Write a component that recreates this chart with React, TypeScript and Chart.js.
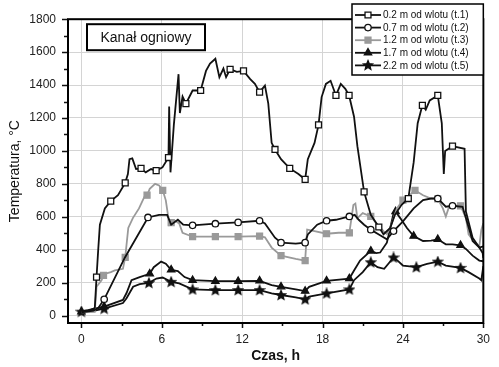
import React, { useEffect, useRef } from "react";
import { Chart, registerables } from "chart.js";

Chart.register(...registerables);

const FONT = "'Liberation Sans', Arial, sans-serif";

// Axis settings
const X_MIN = -1;
const X_MAX = 30;
const X_MAJOR = 6;
const X_MINOR = 3;
const Y_MIN = -45;
const Y_MAX = 1800;
const Y_MAJOR = 200;
const Y_MINOR = 100;

const TITLE_TEXT = "Kanał ogniowy";
const X_TITLE = "Czas, h";
const Y_TITLE = "Temperatura, °C";

const seriesLabels = [
  "0.2 m od wlotu (t.1)",
  "0.7 m od wlotu (t.2)",
  "1.2 m od wlotu (t.3)",
  "1.7 m od wlotu (t.4)",
  "2.2 m od wlotu (t.5)",
];

// t.1 – 0.2 m
const t1Time = [0, 0.5, 1.0, 1.13, 1.25, 1.38, 1.75, 2.19, 2.73, 3.27, 3.47, 3.59, 3.8, 4.08, 4.45, 4.8, 5.2, 5.58, 6.05, 6.5, 6.55, 6.65, 6.9, 7.25, 7.35, 7.55, 7.8, 8.3, 8.9, 9.3, 9.6, 10.0, 10.3, 10.6, 10.8, 11.1, 11.6, 12.1, 12.6, 12.95, 13.3, 13.7, 13.95, 14.2, 14.45, 14.9, 15.55, 16.2, 16.7, 16.9, 17.4, 17.7, 17.93, 18.25, 18.6, 19.0, 19.36, 19.7, 19.98, 20.35, 20.6, 21.1, 21.6, 22.2, 22.55, 23.05, 23.4, 23.9, 24.4, 24.8, 25.1, 25.45, 25.7, 26.0, 26.6, 26.9, 27.05, 27.15, 27.7, 28.6, 28.7, 29.2, 29.7, 29.95, 30];
const t1Temp = [24, 28, 46, 234, 393, 552, 651, 695, 731, 806, 860, 950, 955, 890, 894, 870, 890, 880, 900, 960, 1270, 870, 1158, 1466, 1230, 1330, 1287, 1367, 1367, 1486, 1530, 1560, 1448, 1500, 1448, 1496, 1480, 1486, 1436, 1407, 1357, 1397, 1287, 1049, 1009, 950, 894, 860, 827, 950, 1049, 1158, 1327, 1407, 1426, 1337, 1407, 1377, 1337, 1208, 1029, 751, 612, 538, 494, 532, 612, 673, 711, 930, 1168, 1277, 1250, 1307, 1337, 1168, 860, 1000, 1029, 1013, 632, 473, 413, 380, 350];
const t1Marks = [1.13, 2.19, 3.27, 4.45, 5.58, 6.5, 7.8, 8.9, 11.1, 12.1, 13.3, 14.45, 15.55, 16.7, 17.7, 19.0, 19.98, 21.1, 22.2, 24.4, 25.45, 26.6, 27.7];

// t.2 – 0.7 m
const t2Time = [0, 0.9, 1.25, 1.7, 3.25, 4.97, 5.8, 6.4, 6.7, 7.2, 7.6, 8.3, 10.0, 11.7, 13.3, 13.7, 14.45, 14.9, 16.0, 16.7, 16.9, 17.6, 18.3, 19.0, 20.0, 20.4, 20.7, 21.1, 21.6, 22.2, 22.8, 23.3, 24.0, 24.8, 25.5, 26.1, 26.6, 27.2, 27.7, 28.45, 28.7, 29.2, 29.7, 30];
const t2Temp = [20, 30, 45, 99, 353, 596, 612, 612, 552, 582, 552, 548, 558, 566, 576, 560, 473, 443, 437, 443, 493, 552, 576, 582, 602, 612, 582, 552, 522, 493, 463, 513, 572, 651, 701, 711, 711, 661, 667, 661, 592, 453, 413, 420];
const t2Marks = [1.7, 4.97, 8.3, 10.0, 11.7, 13.3, 14.9, 16.7, 18.3, 20.0, 21.6, 23.3, 26.6, 27.7];

// t.3 – 1.2 m
const t3Time = [0, 1.0, 1.13, 1.5, 1.65, 1.75, 2.2, 2.49, 3.1, 3.27, 3.5, 3.84, 4.3, 4.7, 4.9, 5.1, 5.5, 5.8, 6.07, 6.3, 6.57, 6.7, 6.9, 7.3, 7.55, 8.3, 10.0, 11.7, 13.3, 13.7, 14.2, 14.9, 16.0, 16.7, 16.85, 17.4, 18.3, 19.2, 20.0, 20.3, 20.45, 20.6, 21.0, 21.6, 22.1, 22.55, 22.8, 23.05, 23.55, 24.0, 24.5, 24.9, 25.5, 26.1, 26.6, 26.98, 27.2, 27.4, 27.7, 28.3, 28.7, 28.9, 29.3, 29.7, 29.85, 30];
const t3Temp = [20, 22, 175, 215, 244, 254, 264, 274, 284, 353, 532, 592, 651, 721, 731, 770, 800, 790, 761, 700, 552, 565, 580, 560, 503, 479, 479, 479, 483, 475, 413, 364, 344, 334, 522, 513, 497, 503, 503, 671, 680, 592, 622, 602, 552, 513, 495, 532, 651, 701, 731, 761, 731, 711, 709, 651, 602, 651, 667, 667, 592, 493, 450, 420, 520, 560];
const t3Marks = [1.65, 3.27, 4.9, 6.07, 6.7, 8.3, 10.0, 11.7, 13.3, 14.9, 16.7, 18.3, 20.0, 21.6, 24.0, 24.9, 26.6, 28.3];

// t.4 – 1.7 m
const t4Time = [0, 0.9, 1.7, 3.1, 3.37, 3.74, 4.35, 5.1, 5.4, 5.95, 6.3, 6.7, 7.2, 7.7, 8.3, 10.0, 11.7, 13.3, 14.2, 14.9, 16.0, 16.7, 17.0, 18.3, 20.0, 20.35, 20.8, 21.6, 22.0, 22.3, 22.8, 23.3, 23.45, 23.8, 24.3, 24.8, 25.5, 26.1, 26.6, 27.2, 27.7, 28.3, 28.7, 29.2, 29.7, 30];
const t4Temp = [24, 40, 55, 95, 137, 215, 234, 254, 294, 328, 315, 278, 270, 234, 215, 209, 209, 211, 185, 175, 159, 149, 175, 211, 225, 274, 334, 393, 380, 383, 443, 622, 632, 592, 532, 483, 453, 455, 463, 433, 433, 427, 405, 364, 334, 330];
const t4Marks = [0, 1.7, 5.1, 6.7, 8.3, 10.0, 11.7, 13.3, 14.9, 16.7, 18.3, 20.0, 21.6, 23.45, 24.8, 26.6, 28.3];

// t.5 – 2.2 m
const t5Time = [0, 1.0, 1.7, 3.1, 3.37, 3.86, 4.35, 5.04, 5.6, 6.06, 6.7, 7.3, 8.3, 10.0, 11.7, 13.3, 14.2, 14.9, 16.0, 16.7, 17.0, 18.3, 20.0, 20.35, 21.0, 21.6, 22.1, 22.6, 23.3, 23.6, 24.0, 25.0, 25.8, 26.6, 27.2, 28.3, 28.9, 29.7, 29.85, 30];
const t5Temp = [24, 30, 42, 76, 105, 175, 191, 199, 225, 231, 205, 195, 159, 155, 155, 155, 135, 125, 111, 99, 115, 135, 159, 215, 264, 324, 294, 284, 353, 334, 304, 294, 314, 328, 304, 290, 264, 225, 215, 300];
const t5Marks = [0, 1.7, 5.04, 6.7, 8.3, 10.0, 11.7, 13.3, 14.9, 16.7, 18.3, 20.0, 21.6, 23.3, 25.0, 26.6, 28.3];

const seriesTimes = [t1Time, t2Time, t3Time, t4Time, t5Time];
const seriesTemps = [t1Temp, t2Temp, t3Temp, t4Temp, t5Temp];
const seriesMarks = [t1Marks, t2Marks, t3Marks, t4Marks, t5Marks];

const LINE_COLORS = ["#111", "#111", "#9a9a9a", "#111", "#111"];
const POINT_STYLES = ["rect", "circle", "rect", "triangle", "star"];
const POINT_FILLS = ["#fff", "#fff", "#9a9a9a", "#111", "#111"];
const POINT_RADII = [4.2, 3.2, 4.2, 4.2, 4.8];

function markerPath(ctx: CanvasRenderingContext2D, i: number, x: number, y: number) {
  const s = POINT_STYLES[i];
  const r = POINT_RADII[i];
  ctx.beginPath();
  if (s === "rect") {
    const h = r * Math.SQRT1_2;
    ctx.rect(x - h, y - h, 2 * h, 2 * h);
  } else if (s === "circle") {
    ctx.arc(x, y, r, 0, Math.PI * 2);
  } else if (s === "triangle") {
    ctx.moveTo(x, y - r);
    ctx.lineTo(x + r * 0.87, y + r * 0.5);
    ctx.lineTo(x - r * 0.87, y + r * 0.5);
    ctx.closePath();
  } else {
    for (let k = 0; k < 10; k++) {
      const ang = -Math.PI / 2 + (k * Math.PI) / 5;
      const rr = k % 2 === 0 ? r : r * 0.45;
      const px = x + rr * Math.cos(ang);
      const py = y + rr * Math.sin(ang);
      if (k === 0) ctx.moveTo(px, py);
      else ctx.lineTo(px, py);
    }
    ctx.closePath();
  }
}

function drawMarker(ctx: CanvasRenderingContext2D, i: number, x: number, y: number) {
  ctx.save();
  ctx.lineWidth = 1.3;
  ctx.strokeStyle = LINE_COLORS[i];
  ctx.fillStyle = POINT_FILLS[i];
  markerPath(ctx, i, x, y);
  ctx.fill();
  ctx.stroke();
  ctx.restore();
}

function makeStarCanvas(i: number) {
  const c = document.createElement("canvas");
  c.width = 12;
  c.height = 12;
  const cx = c.getContext("2d");
  if (cx) drawMarker(cx, i, 6, 6.3);
  return c;
}

const decorPlugin = {
  id: "decor",
  afterDraw(chart: any) {
    const { ctx, chartArea: ca, scales } = chart;
    const xs = scales.x;
    const ys = scales.y;
    ctx.save();
    // ticks
    ctx.strokeStyle = "#111";
    ctx.lineWidth = 1.5;
    ctx.beginPath();
    for (let v = 0; v <= Y_MAX; v += Y_MINOR) {
      const py = Math.round(ys.getPixelForValue(v)) + 0.5;
      const len = v % Y_MAJOR === 0 ? 6 : 4;
      ctx.moveTo(ca.left - len, py);
      ctx.lineTo(ca.left, py);
    }
    for (let v = 0; v <= X_MAX; v += X_MINOR) {
      const px = Math.round(xs.getPixelForValue(v)) + 0.5;
      const len = v % X_MAJOR === 0 ? 5 : 3;
      ctx.moveTo(px, ca.bottom);
      ctx.lineTo(px, ca.bottom + len);
    }
    ctx.stroke();
    // frame
    ctx.lineWidth = 2;
    ctx.strokeStyle = "#000";
    ctx.strokeRect(ca.left, ca.top, ca.right - ca.left, ca.bottom - ca.top);

    // title box
    const bx = ca.left + 19;
    const by = ca.top + 5;
    const bw = 118;
    const bh = 26;
    ctx.fillStyle = "#fff";
    ctx.fillRect(bx, by, bw, bh);
    ctx.lineWidth = 2;
    ctx.strokeRect(bx, by, bw, bh);
    ctx.fillStyle = "#111";
    ctx.font = `14px ${FONT}`;
    ctx.textAlign = "center";
    ctx.textBaseline = "middle";
    ctx.fillText(TITLE_TEXT, bx + bw / 2, by + bh / 2 + 1);

    // legend
    const lx = 352;
    const ly = 4;
    const lw = ca.right - lx;
    const lh = 71;
    ctx.fillStyle = "#fff";
    ctx.fillRect(lx, ly, lw, lh);
    ctx.lineWidth = 1.5;
    ctx.strokeStyle = "#000";
    ctx.strokeRect(lx, ly, lw, lh);
    ctx.font = `10px ${FONT}`;
    ctx.textAlign = "left";
    ctx.textBaseline = "middle";
    for (let i = 0; i < seriesLabels.length; i++) {
      const yy = ly + 11 + i * 12.6;
      ctx.strokeStyle = LINE_COLORS[i];
      ctx.lineWidth = 1.8;
      ctx.beginPath();
      ctx.moveTo(lx + 3, yy);
      ctx.lineTo(lx + 29, yy);
      ctx.stroke();
      drawMarker(ctx, i, lx + 16, yy);
      ctx.fillStyle = "#111";
      ctx.fillText(seriesLabels[i], lx + 31, yy + 0.5);
    }
    ctx.restore();
  },
};

export default function App() {
  const ref = useRef<HTMLCanvasElement | null>(null);

  useEffect(() => {
    if (!ref.current) return;
    const datasets = seriesLabels.map((label, i) => {
      const times = seriesTimes[i];
      const temps = seriesTemps[i];
      const marks = seriesMarks[i];
      const style: any = POINT_STYLES[i] === "star" ? makeStarCanvas(i) : POINT_STYLES[i];
      return {
        label,
        data: times.map((t, k) => ({ x: t, y: temps[k] })),
        borderColor: LINE_COLORS[i],
        borderWidth: 1.8,
        backgroundColor: POINT_FILLS[i],
        pointStyle: style,
        pointRadius: (c: any) => (marks.includes(times[c.dataIndex]) ? POINT_RADII[i] : 0),
        pointHoverRadius: 0,
        pointBackgroundColor: POINT_FILLS[i],
        pointBorderColor: LINE_COLORS[i],
        pointBorderWidth: 1.3,
        tension: 0,
        fill: false,
      };
    });

    const chart = new Chart(ref.current, {
      type: "line",
      data: { datasets },
      plugins: [decorPlugin],
      options: {
        animation: false,
        responsive: false,
        maintainAspectRatio: false,
        layout: { padding: { top: 14, right: 12, left: 0, bottom: 0 } },
        plugins: { legend: { display: false }, tooltip: { enabled: false } },
        scales: {
          x: {
            type: "linear",
            min: X_MIN,
            max: X_MAX,
            afterFit: (s: any) => {
              s.height = 44;
            },
            grid: { color: "#d4d4d4", lineWidth: 1, drawTicks: false },
            border: { display: false },
            ticks: {
              stepSize: X_MAJOR,
              includeBounds: false,
              padding: 9,
              color: "#222",
              font: { family: FONT, size: 12 },
              callback: (v: any) => String(v),
            },
            title: {
              display: true,
              text: X_TITLE,
              color: "#111",
              font: { family: FONT, size: 14, weight: "bold" },
              padding: { top: 0, bottom: 2 },
            },
          },
          y: {
            type: "linear",
            min: Y_MIN,
            max: Y_MAX,
            afterFit: (s: any) => {
              s.width = 68;
            },
            grid: { color: "#d4d4d4", lineWidth: 1, drawTicks: false },
            border: { display: false },
            ticks: {
              stepSize: Y_MAJOR,
              includeBounds: false,
              padding: 12,
              color: "#222",
              font: { family: FONT, size: 12 },
              callback: (v: any) => String(v),
            },
            title: {
              display: true,
              text: Y_TITLE,
              color: "#111",
              font: { family: FONT, size: 14 },
              padding: { top: 7, bottom: 0 },
            },
          },
        },
      },
    });
    return () => chart.destroy();
  }, []);

  return (
    <div style={{ position: "fixed", left: 0, top: 0, width: 499, height: 367, background: "#fff" }}>
      <canvas ref={ref} width={499} height={367} />
    </div>
  );
}
